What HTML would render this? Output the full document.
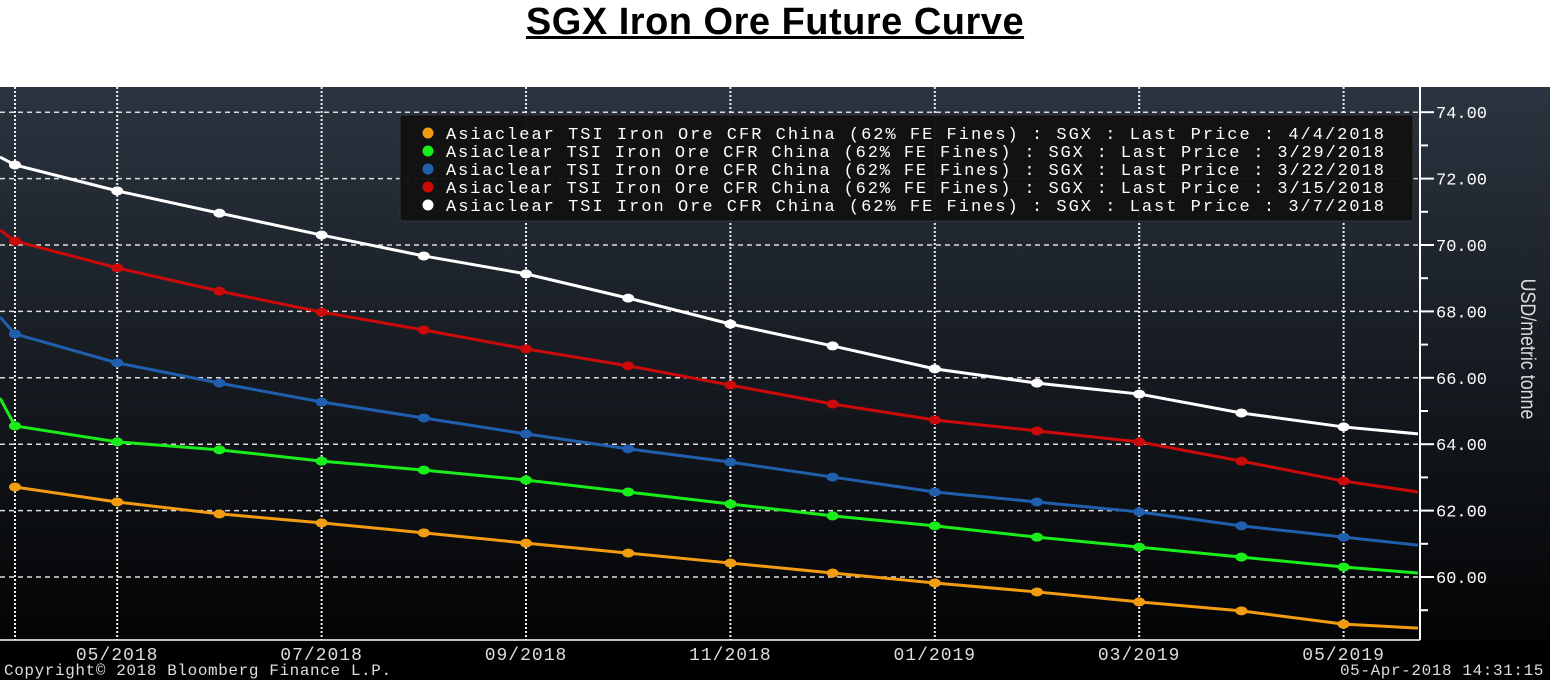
<!DOCTYPE html>
<html><head><meta charset="utf-8"><style>
body{margin:0;width:1550px;height:680px;background:#fff;overflow:hidden;font-family:"Liberation Sans",sans-serif}
#title{position:absolute;left:0;width:1550px;top:0;text-align:center;font-size:38px;font-weight:bold;text-decoration:underline;line-height:44px;color:#000;letter-spacing:0.5px}
svg{position:absolute;left:0;top:87px}
</style></head><body>
<div id="title">SGX Iron Ore Future Curve</div>
<svg id="c" width="1550" height="593">
<defs><linearGradient id="bg" x1="0" y1="0" x2="0" y2="1"><stop offset="0" stop-color="#2b3440"/><stop offset="1" stop-color="#000"/></linearGradient></defs>
<rect x="0" y="0" width="1550" height="593" fill="url(#bg)"/>
<rect x="0" y="553" width="1550" height="40" fill="#000"/>
</svg>
<script>
const months=[0,1,2,3,4,5,6,7,8,9,10,11,12,13];
const white=[72.41,71.63,70.96,70.30,69.67,69.13,68.40,67.62,66.96,66.27,65.84,65.51,64.94,64.52];
const red=[70.12,69.31,68.61,67.98,67.44,66.87,66.36,65.78,65.21,64.73,64.40,64.07,63.49,62.89];
const blue=[67.32,66.45,65.84,65.27,64.79,64.31,63.86,63.46,63.01,62.56,62.26,61.96,61.54,61.20];
const green=[64.55,64.07,63.83,63.49,63.22,62.92,62.56,62.20,61.84,61.54,61.20,60.90,60.60,60.30];
const orange=[62.71,62.26,61.90,61.63,61.33,61.02,60.72,60.42,60.12,59.82,59.55,59.25,58.98,58.58];
const startVals=[72.65,70.45,67.83,65.39,null];
const endVals=[64.31,62.56,60.96,60.12,58.46];
const yTicks=[60,62,64,66,68,70,72,74];
const xTickIdx=[1,3,5,7,9,11,13];
const xTickLabels=["05/2018","07/2018","09/2018","11/2018","01/2019","03/2019","05/2019"];
const legendDates=["4/4/2018","3/29/2018","3/22/2018","3/15/2018","3/7/2018"];
const NS="http://www.w3.org/2000/svg",svg=document.getElementById('c');
const X=i=>15+i*102.2, Y=v=>490-(v-60)*33.2;
const PR=1420;
function mk(t,a,p){const e=document.createElementNS(NS,t);for(const k in a)e.setAttribute(k,a[k]);(p||svg).appendChild(e);return e;}
yTicks.forEach(v=>{const l=mk('line',{x1:0,x2:PR,y1:Y(v),y2:Y(v),stroke:'#ddd','stroke-width':1.5,'stroke-dasharray':'5,4'});


const t=mk('line',{x1:PR,x2:PR+14,y1:Y(v),y2:Y(v),stroke:'#fff','stroke-width':2});


const m=mk('line',{x1:PR,x2:PR+8,y1:Y(v-1),y2:Y(v-1),stroke:'#fff','stroke-width':2});


const tx=mk('text',{x:PR+16,y:Y(v)+6,fill:'#fff','font-size':17,'font-family':'Liberation Mono,monospace'});tx.textContent=v.toFixed(2);

});
[0].concat(xTickIdx).forEach(i=>{const l=mk('line',{x1:X(i),x2:X(i),y1:0,y2:553,stroke:'#eee','stroke-width':2,'stroke-dasharray':'2,2'});

});
xTickIdx.forEach((i,k)=>{const tx=mk('text',{x:X(i),y:573,fill:'#ddd','font-size':18,'text-anchor':'middle','font-family':'Liberation Mono,monospace','letter-spacing':1});tx.textContent=xTickLabels[k];

});
const ax=mk('line',{x1:PR,x2:PR,y1:0,y2:553,stroke:'#fff','stroke-width':2});


const bx=mk('line',{x1:0,x2:PR,y1:553,y2:553,stroke:'#fff','stroke-width':1.5});


const yt=mk('text',{x:0,y:0,fill:'#ddd','font-size':21,'text-anchor':'middle',transform:`translate(1521,262) rotate(90) scale(0.85,1)`,'font-family':'Liberation Sans Narrow,Liberation Sans,sans-serif'});yt.textContent='USD/metric tonne';


const series=[[orange,'#f39c12'],[green,'#1aee1a'],[blue,'#1f5fae'],[red,'#cc0a0a'],[white,'#ffffff']];
const order=[4,3,2,1,0];
order.forEach(k=>{const [vals,col]=series[k];const si=4-k;
let pts=[];if(startVals[si]!==null)pts.push([0,Y(startVals[si])]);
vals.forEach((v,i)=>pts.push([X(months[i]),Y(v)]));pts.push([PR-2,Y(endVals[si])]);
const p=mk('polyline',{points:pts.map(q=>q.join(',')).join(' '),fill:'none',stroke:col,'stroke-width':3});


vals.forEach((v,i)=>{const c=mk('ellipse',{cx:X(months[i]),cy:Y(v),rx:6,ry:4.5,fill:col});

});});
const lg=mk('rect',{x:400,y:28,width:1013,height:106,fill:'#111',stroke:'#333',rx:3,opacity:0.95});


series.forEach((s,k)=>{const y=46+k*18;
const d=mk('circle',{cx:428,cy:y,r:5.5,fill:s[1]});


const t=mk('text',{x:446,y:y+6,fill:'#fff','font-size':17,'font-family':'Liberation Mono,monospace','textLength':938});
t.textContent='Asiaclear TSI Iron Ore CFR China (62% FE Fines) : SGX : Last Price : '+legendDates[k];

});
const cp=mk('text',{x:4,y:588,fill:'#ddd','font-size':16,'font-family':'Liberation Mono,monospace','letter-spacing':0.6});cp.textContent='Copyright© 2018 Bloomberg Finance L.P.';


const ts=mk('text',{x:1544,y:588,fill:'#ddd','font-size':16,'text-anchor':'end','font-family':'Liberation Mono,monospace','letter-spacing':0.6});ts.textContent='05-Apr-2018 14:31:15';


</script>
</body></html>
